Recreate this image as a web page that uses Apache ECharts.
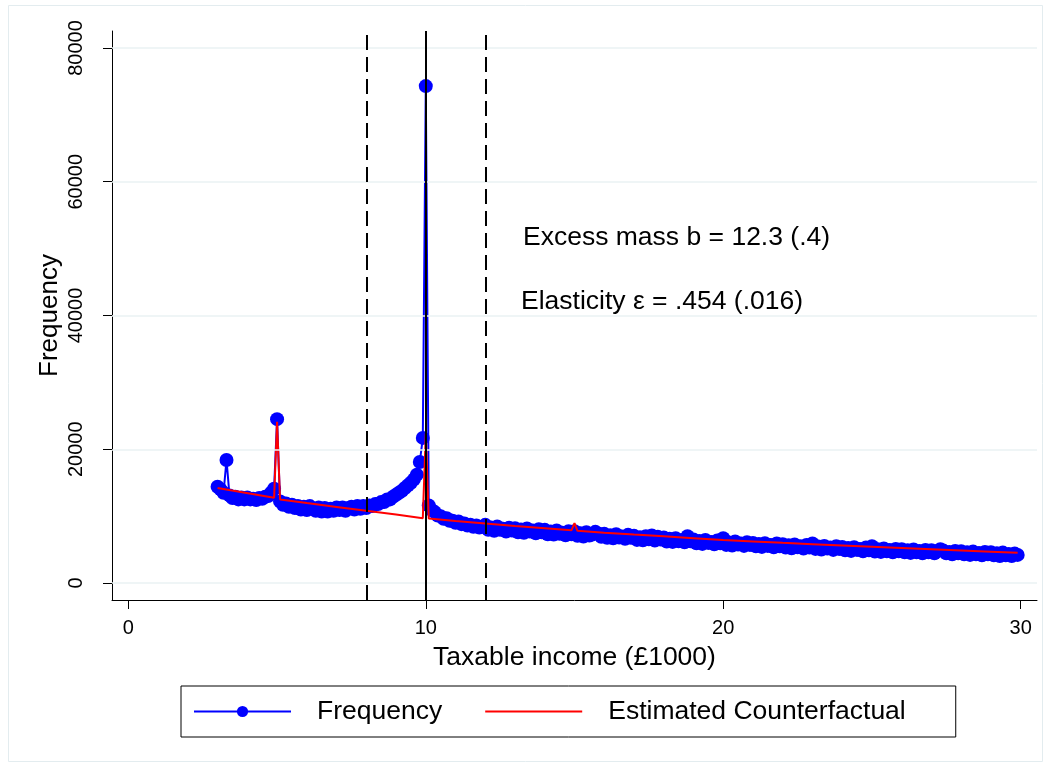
<!DOCTYPE html>
<html>
<head>
<meta charset="utf-8">
<script src="https://cdn.jsdelivr.net/npm/echarts@6/dist/echarts.min.js"></script>
<style>
html,body{margin:0;padding:0;background:#fff;}
#chart{width:1050px;height:768px;}
</style>
</head>
<body>
<div id="chart"></div>
<script>
// ---- data ----
var binStart = 3.0;      // first income bin (£1000)
var binWidth = 0.1;      // bin width (£1000)
var frequency = [
  14400, 14000, 13500, 18400, 13100, 12700, 12900, 12500, 12800, 12500,
  12800, 12500, 12600, 12400, 12700, 12600, 12900, 13000, 13500, 14100,
  24500, 12200, 11700, 11900, 11400, 11700, 11200, 11500, 11000, 11400,
  10900, 11500, 11100, 10800, 11300, 10700, 11200, 10700, 11100, 10800,
  11300, 10900, 11300, 10800, 11200, 11400, 11000, 11500, 11100, 11500,
  11200, 11600, 11500, 11800, 11800, 12100, 12100, 12500, 12500, 12900,
  13200, 13500, 13800, 14200, 14600, 15000, 15500, 16200, 18100, 21700,
  74300, 11600, 10900, 10600, 10100, 10000, 9600, 9700, 9300, 9300,
  9000, 9200, 8800, 8900, 8600, 8700, 8400, 8600, 8300, 8400,
  8700, 7950, 8300, 7800, 8450, 7950, 8100, 7700, 8250, 7850,
  8200, 7600, 8000, 7500, 8150, 7700, 7850, 7450, 8050, 7600,
  7950, 7300, 7700, 7250, 7850, 7350, 7500, 7150, 7750, 7300,
  7750, 7050, 7450, 6950, 7600, 7100, 7250, 7650, 7400, 6900,
  7350, 6750, 7150, 6700, 7300, 6800, 6950, 6600, 7200, 6750,
  7050, 6450, 6850, 6400, 7000, 6550, 7100, 6350, 6900, 6500,
  6800, 6200, 6600, 6150, 6700, 6250, 6400, 6100, 7000, 6250,
  6500, 5950, 6300, 5850, 6450, 6000, 6150, 5800, 6350, 5950,
  6700, 5700, 6050, 5600, 6200, 5750, 5900, 5550, 6100, 5700,
  6000, 5500, 5850, 5400, 5950, 5550, 5700, 5350, 5900, 5500,
  5800, 5300, 5650, 5200, 5750, 5350, 5500, 5150, 5700, 5300,
  5900, 5100, 5450, 5000, 5550, 5150, 5300, 4950, 5500, 5100,
  5400, 4900, 5250, 4800, 5350, 4950, 5100, 4750, 5300, 4900,
  5500, 4700, 5050, 4650, 5150, 4750, 4950, 4600, 5100, 4750,
  5050, 4600, 4900, 4500, 5000, 4600, 4800, 4450, 4950, 4600,
  4900, 4450, 4750, 5050, 4850, 4450, 4650, 4300, 4800, 4450,
  4750, 4300, 4600, 4200, 4700, 4300, 4500, 4150, 4650, 4300,
  4600, 4150, 4450, 4050, 4550, 4150, 4350, 4050, 4400, 4200
];
var counterfactualX = [3.0, 4.9, 5.0, 5.1, 6, 7, 8, 9, 9.9, 10.0, 10.1, 11, 12, 13, 14, 14.9, 15.0, 15.1, 16, 17, 18, 19, 20, 21, 22, 23, 24, 25, 26, 27, 28, 29, 29.9];
var counterfactualY = [14200, 12750, 24100, 12500, 11950, 11370, 10800, 10230, 9700, 22400, 9650, 9280, 8900, 8540, 8200, 7900, 8950, 7800, 7530, 7250, 6980, 6700, 6430, 6220, 6010, 5810, 5610, 5420, 5230, 5040, 4860, 4680, 4520];
var xTicks = [0, 10, 20, 30];
var yTicks = [0, 20000, 40000, 60000, 80000];
var dashedLines = [8, 12];
var solidLines = [10];
var annotations = ['Excess mass b = 12.3 (.4)', 'Elasticity \u03b5 = .454 (.016)'];

// ---- build ----
var freqData = frequency.map(function (v, i) {
  return [Math.round((binStart + i * binWidth) * 10) / 10, v];
});
var cfData = counterfactualX.map(function (x, i) { return [x, counterfactualY[i]]; });

var FONT = "'Liberation Sans', Arial, sans-serif";
var chart = echarts.init(document.getElementById('chart'), null, {renderer: 'canvas'});
chart.setOption({
  animation: false,
  backgroundColor: '#ffffff',
  textStyle: {fontFamily: FONT, color: '#000'},
  grid: {left: 112, right: 13, top: 31, bottom: 168, containLabel: false},
  xAxis: {
    type: 'value', min: -0.55, max: 30.55,
    name: 'Taxable income (\u00a31000)', nameLocation: 'middle', nameGap: 44,
    nameTextStyle: {fontSize: 26.5, fontFamily: FONT, color: '#000'},
    axisLine: {show: true, onZero: false, lineStyle: {color: '#000', width: 1}},
    axisTick: {show: true, length: 9, customValues: xTicks, lineStyle: {color: '#000'}},
    axisLabel: {customValues: xTicks, fontSize: 20, margin: 18, color: '#000', fontFamily: FONT,
      formatter: function (v) { return String(v); }},
    splitLine: {show: false}
  },
  yAxis: {
    type: 'value', min: -2540, max: 82540,
    name: 'Frequency', nameLocation: 'middle', nameGap: 49, nameRotate: 90,
    nameMoveOverlap: false,
    nameTextStyle: {fontSize: 26, fontFamily: FONT, color: '#000'},
    axisLine: {show: true, onZero: false, lineStyle: {color: '#000', width: 1}},
    axisTick: {show: true, length: 9, customValues: yTicks, lineStyle: {color: '#000'}},
    axisLabel: {customValues: yTicks, rotate: 90, fontSize: 20, margin: 26, color: '#000', fontFamily: FONT,
      formatter: function (v) { return String(v); }},
    splitLine: {show: false}
  },
  legend: {
    left: 181, top: 686,
    padding: [12, 50, 12, 12],
    borderColor: '#000', borderWidth: 1,
    itemWidth: 97, itemHeight: 14, itemGap: 42,
    textStyle: {fontSize: 26.5, fontFamily: FONT, color: '#000', padding: [0, 0, 0, 21]},
    data: ['Frequency', {name: 'Estimated Counterfactual', itemStyle: {opacity: 0}}]
  },
  graphic: [
    {type: 'rect', silent: true, z: -10, shape: {x: 8.5, y: 5.5, width: 1034, height: 756},
     style: {fill: null, stroke: '#e3ecef', lineWidth: 1}},
    {type: 'text', left: 523, top: 224, style: {text: annotations[0], font: '26.5px ' + FONT, fill: '#000'}},
    {type: 'text', left: 521, top: 288, style: {text: annotations[1], font: '26.5px ' + FONT, fill: '#000'}}
  ],
  series: [
    {
      name: 'grid', type: 'line', data: [], z: 1, silent: true,
      markLine: {
        silent: true, symbol: 'none', label: {show: false},
        lineStyle: {color: '#eaf2f3', width: 1.5, type: 'solid'},
        data: yTicks.map(function (v) { return {yAxis: v}; })
      }
    },
    {
      name: 'Frequency', type: 'line', data: freqData, z: 3,
      symbol: 'circle', symbolSize: 14, showAllSymbol: true,
      itemStyle: {color: '#0000ff'},
      lineStyle: {color: '#0000ff', width: 2}
    },
    {
      name: 'Estimated Counterfactual', type: 'line', data: cfData, z: 4,
      symbol: 'none', itemStyle: {color: '#ff0000'},
      lineStyle: {color: '#ff0000', width: 2}
    },
    {
      name: 'xlines', type: 'line', data: [], z: 5, silent: true,
      markLine: {
        silent: true, symbol: 'none', label: {show: false},
        data: dashedLines.map(function (v) {
          return {xAxis: v, lineStyle: {color: '#000', width: 2, type: [15, 7]}};
        }).concat(solidLines.map(function (v) {
          return {xAxis: v, lineStyle: {color: '#000', width: 2, type: 'solid'}};
        }))
      }
    }
  ]
});
</script>
</body>
</html>
